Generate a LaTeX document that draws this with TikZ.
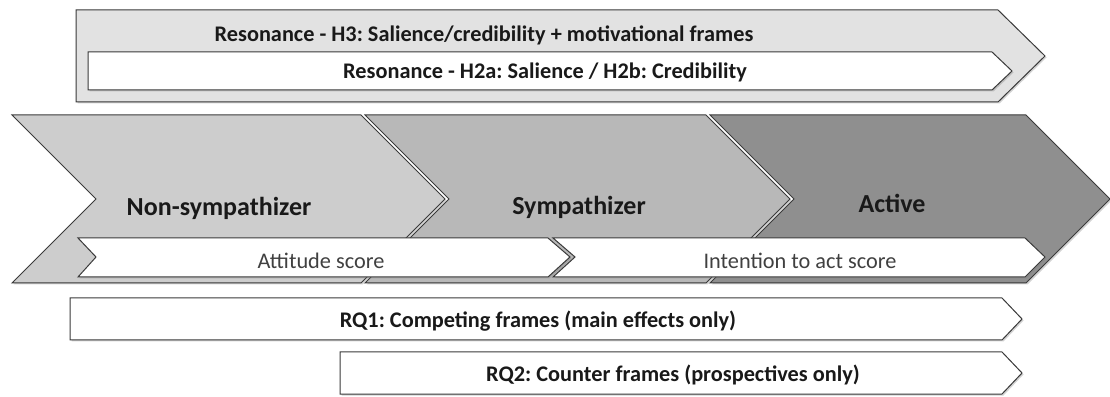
\documentclass[tikz,border=0pt]{standalone}
\usepackage{fontspec}
\setmainfont{Carlito}
\usetikzlibrary{shadows}
\definecolor{bandgray}{HTML}{E2E2E2}
\definecolor{stageone}{HTML}{CDCDCD}
\definecolor{stagetwo}{HTML}{B8B8B8}
\definecolor{stagethree}{HTML}{8F8F8F}
\definecolor{edgegray}{HTML}{3A3A3A}
\frenchspacing

\begin{document}
\begin{tikzpicture}[x=1pt,y=1pt,
  band/.style={draw=edgegray,line width=1pt,line join=miter,
    drop shadow={shadow xshift=1.5pt,shadow yshift=-1.5pt,opacity=.35}},
  bold label/.style={font=\bfseries\fontsize{22.3}{26}\selectfont,text=black!90},
  stage label/.style={font=\bfseries\fontsize{26}{30}\selectfont,text=black!90},
  score label/.style={font=\fontsize{22.3}{26}\selectfont,text=black!75}]

\useasboundingbox (0,0) rectangle (1110,396);

% resonance bands
\draw[band,fill=bandgray] (76,386)--(998,386)--(1045,340)--(998,294)--(76,294)--cycle;
\draw[band,fill=white] (88,344)--(992,344)--(1012,325)--(992,306)--(88,306)--cycle;
\node[bold label] (hthree) at (484,361) {Resonance - H3: Salience/credibility + motivational frames};
\node[bold label] (htwo) at (545,324) {Resonance - H2a: Salience / H2b: Credibility};

% stages
\draw[band,fill=stageone] (12,281)--(361,281)--(445,197)--(361,113)--(12,113)--(96,197)--cycle;
\draw[band,fill=stagetwo] (365,281)--(706,281)--(790,197)--(706,113)--(365,113)--(449,197)--cycle;
\draw[band,fill=stagethree] (710,281)--(1026,281)--(1110,197)--(1026,113)--(710,113)--(794,197)--cycle;
\node[stage label] (nonsymp) at (219,188) {Non-sympathizer};
\node[stage label] (symp) at (579,189) {Sympathizer};
\node[stage label] (active) at (892,193) {Active};

% scores
\draw[band,fill=white] (78,158)--(548,158)--(570,139)--(548,119)--(78,119)--(96,139)--cycle;
\draw[band,fill=white] (553,158)--(1025,158)--(1045,139)--(1025,119)--(553,119)--(575,139)--cycle;
\node[score label] (attitude) at (321,135) {Attitude score};
\node[score label] (intention) at (800,135) {Intention to act score};

% research questions
\draw[band,fill=white] (70,98)--(1002,98)--(1022,77)--(1002,56)--(70,56)--cycle;
\draw[band,fill=white] (340,44)--(1002,44)--(1022,23)--(1002,2)--(340,2)--cycle;
\node[bold label] (rqone) at (538,75) {RQ1: Competing frames (main effects only)};
\node[bold label] (rqtwo) at (673,21) {RQ2: Counter frames (prospectives only)};
\end{tikzpicture}
\end{document}
